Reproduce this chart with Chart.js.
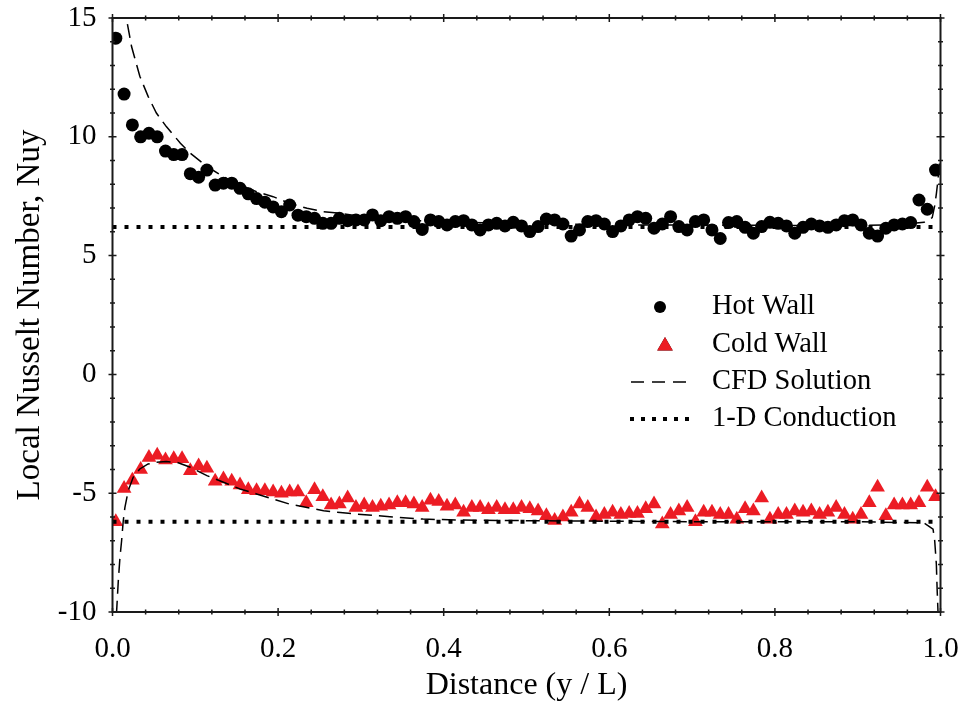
<!DOCTYPE html>
<html>
<head>
<meta charset="utf-8">
<script src="https://cdn.jsdelivr.net/npm/chart.js@4.4.1/dist/chart.umd.min.js"></script>
<style>
  html, body { margin: 0; padding: 0; background: #fff; }
  #wrap { width: 963px; height: 702px; }
</style>
</head>
<body>
<div id="wrap"><canvas id="myChart"></canvas></div>
<script>
// Distance (y / L) of each measured point
const distance = [
  0.004, 0.014, 0.024, 0.034, 0.044, 0.054, 0.064, 0.074, 0.084, 0.094,
  0.104, 0.114, 0.124, 0.134, 0.144, 0.154, 0.164, 0.174, 0.184, 0.194,
  0.204, 0.214, 0.224, 0.234, 0.244, 0.254, 0.264, 0.274, 0.284, 0.294,
  0.304, 0.314, 0.324, 0.334, 0.344, 0.354, 0.364, 0.374, 0.384, 0.394,
  0.404, 0.414, 0.424, 0.434, 0.444, 0.454, 0.464, 0.474, 0.484, 0.494,
  0.504, 0.514, 0.524, 0.534, 0.544, 0.554, 0.564, 0.574, 0.584, 0.594,
  0.604, 0.614, 0.624, 0.634, 0.644, 0.654, 0.664, 0.674, 0.684, 0.694,
  0.704, 0.714, 0.724, 0.734, 0.744, 0.754, 0.764, 0.774, 0.784, 0.794,
  0.804, 0.814, 0.824, 0.834, 0.844, 0.854, 0.864, 0.874, 0.884, 0.894,
  0.904, 0.914, 0.924, 0.934, 0.944, 0.954, 0.964, 0.974, 0.984, 0.994
];

const hotWall = [
  14.15, 11.8, 10.5, 10.0, 10.15, 10.0, 9.4, 9.25, 9.25, 8.45,
  8.3, 8.6, 7.97, 8.05, 8.05, 7.83, 7.6, 7.4, 7.25, 7.05,
  6.85, 7.13, 6.7, 6.64, 6.57, 6.36, 6.36, 6.57, 6.47, 6.5,
  6.5, 6.71, 6.47, 6.64, 6.57, 6.64, 6.43, 6.1, 6.5, 6.43,
  6.29, 6.43, 6.47, 6.29, 6.08, 6.29, 6.36, 6.25, 6.4, 6.25,
  6.01, 6.22, 6.54, 6.5, 6.33, 5.82, 6.08, 6.43, 6.47, 6.33,
  6.01, 6.25, 6.5, 6.64, 6.57, 6.15, 6.33, 6.64, 6.22, 6.08,
  6.43, 6.5, 6.08, 5.72, 6.39, 6.43, 6.19, 5.94, 6.22, 6.4,
  6.36, 6.25, 5.94, 6.19, 6.33, 6.25, 6.19, 6.29, 6.47, 6.5,
  6.29, 5.94, 5.82, 6.15, 6.29, 6.33, 6.39, 7.34, 6.95, 8.6
];

const coldWall = [
  -6.2, -4.8, -4.45, -4.0, -3.5, -3.4, -3.6, -3.55, -3.55, -4.05,
  -3.85, -3.95, -4.5, -4.4, -4.5, -4.65, -4.85, -4.9, -4.9, -4.95,
  -5.0, -4.95, -4.95, -5.4, -4.85, -5.15, -5.5, -5.45, -5.2, -5.6,
  -5.5, -5.6, -5.55, -5.5, -5.4, -5.4, -5.45, -5.6, -5.3, -5.35,
  -5.55, -5.5, -5.8, -5.6, -5.6, -5.7, -5.6, -5.7, -5.7, -5.6,
  -5.65, -5.75, -5.95, -6.15, -6.0, -5.8, -5.45, -5.6, -6.0, -5.9,
  -5.8, -5.9, -5.85, -5.85, -5.65, -5.45, -6.3, -5.9, -5.75, -5.6,
  -6.2, -5.8, -5.8, -5.9, -5.9, -6.1, -5.65, -5.75, -5.2, -6.1,
  -5.9, -5.9, -5.75, -5.8, -5.75, -5.9, -5.8, -5.6, -5.9, -6.1,
  -5.9, -5.4, -4.75, -5.95, -5.5, -5.5, -5.5, -5.4, -4.75, -5.15
];

// CFD solution curves
const cfdHotX = [0.012, 0.017, 0.020, 0.023, 0.033, 0.043, 0.053, 0.065, 0.082, 0.094,
  0.114, 0.134, 0.154, 0.174, 0.194, 0.214, 0.235, 0.255, 0.275, 0.30,
  0.35, 0.40, 0.50, 0.60, 0.70, 0.80, 0.90, 0.95, 0.98, 0.99,
  0.993, 0.995, 0.997, 0.999];
const cfdHotY = [16.5, 14.94, 14.37, 13.8, 12.55, 11.7, 11.0, 10.43, 9.73, 9.31,
  8.75, 8.32, 7.97, 7.69, 7.48, 7.2, 6.99, 6.85, 6.78, 6.65,
  6.5, 6.42, 6.35, 6.3, 6.28, 6.27, 6.27, 6.3, 6.4, 6.6,
  7.1, 7.6, 8.2, 9.0];

const cfdColdX = [0.004, 0.005, 0.007, 0.009, 0.011, 0.013, 0.015, 0.019, 0.025, 0.033,
  0.043, 0.053, 0.065, 0.078, 0.094, 0.114, 0.134, 0.154, 0.174, 0.194,
  0.214, 0.235, 0.255, 0.275, 0.295, 0.335, 0.375, 0.416, 0.516, 0.70,
  0.90, 0.98, 0.991, 0.993, 0.995, 0.996, 0.997, 0.998];
const cfdColdY = [-11, -9.96, -8.69, -7.71, -7.0, -6.16, -5.6, -4.89, -4.33, -3.98,
  -3.77, -3.70, -3.67, -3.70, -3.91, -4.26, -4.54, -4.82, -5.03, -5.25,
  -5.46, -5.6, -5.74, -5.81, -5.88, -5.99, -6.09, -6.13, -6.16, -6.2,
  -6.2, -6.25, -6.51, -7.0, -7.99, -9.11, -10.0, -11];

// 1-D conduction
const condX = [0, 1];
const condHot = [6.2, 6.2];
const condCold = [-6.2, -6.2];

// axis ticks
const xTicks = [0.0, 0.2, 0.4, 0.6, 0.8, 1.0];
const yTicks = [-10, -5, 0, 5, 10, 15];
const xMinorStep = 0.04;
const yMinorStep = 1;

const RED = '#ec1c24';
const FONT = "'Liberation Serif', 'Times New Roman', serif";

function pts(xs, ys) {
  return xs.map((x, i) => ({ x: x, y: ys[i] }));
}

// drop the label overhang so layout padding alone sets the plot box
function noOverhang(s) {
  s.paddingTop = 0; s.paddingBottom = 0;
  s.paddingLeft = 0; s.paddingRight = 0;
}

// box + in/out tick marks on all four sides
const framePlugin = {
  id: 'frame',
  afterDraw(chart) {
    const { ctx, chartArea: a, scales } = chart;
    const xs = scales.x, ys = scales.y;
    ctx.save();
    ctx.strokeStyle = '#1a1a1a';
    ctx.lineWidth = 2;
    ctx.strokeRect(a.left, a.top, a.right - a.left, a.bottom - a.top);
    ctx.lineWidth = 1.5;
    ctx.beginPath();
    for (let k = 0; k <= 25; k++) {
      const v = k * xMinorStep;
      const px = xs.getPixelForValue(v);
      const h = (k % 5 === 0) ? 4 : 2.5;
      ctx.moveTo(px, a.bottom - h); ctx.lineTo(px, a.bottom + h);
      ctx.moveTo(px, a.top - h); ctx.lineTo(px, a.top + h);
    }
    for (let k = 0; k <= 25; k++) {
      const v = -10 + k * yMinorStep;
      const py = ys.getPixelForValue(v);
      const h = (k % 5 === 0) ? 4 : 2.5;
      ctx.moveTo(a.left - h, py); ctx.lineTo(a.left + h, py);
      ctx.moveTo(a.right - h, py); ctx.lineTo(a.right + h, py);
    }
    ctx.stroke();
    ctx.restore();
  }
};

// legend inside the plot
const legendPlugin = {
  id: 'insideLegend',
  afterDraw(chart) {
    const ctx = chart.ctx;
    const symX = 660, textX = 712;
    const rows = [307, 345, 382, 419];
    ctx.save();
    ctx.font = '28.5px ' + FONT;
    ctx.fillStyle = '#000';
    ctx.textBaseline = 'middle';
    ctx.textAlign = 'left';
    const labels = ['Hot Wall', 'Cold Wall', 'CFD Solution', '1-D Conduction'];

    // hot wall dot
    ctx.beginPath();
    ctx.arc(symX, rows[0], 6, 0, Math.PI * 2);
    ctx.fillStyle = '#000';
    ctx.fill();
    // cold wall triangle
    Chart.helpers.drawPoint(ctx, { pointStyle: 'triangle', radius: 9, rotation: 0, borderWidth: 0 }, symX + 5, rows[1] + 1);
    ctx.fillStyle = RED;
    ctx.fill();
    // dashed line
    ctx.strokeStyle = '#000';
    ctx.lineWidth = 1.5;
    ctx.setLineDash([13, 8]);
    ctx.beginPath();
    ctx.moveTo(symX - 29, rows[2]); ctx.lineTo(symX + 29, rows[2]);
    ctx.stroke();
    // dotted line
    ctx.lineWidth = 4;
    ctx.setLineDash([4, 7]);
    ctx.beginPath();
    ctx.moveTo(symX - 30, rows[3]); ctx.lineTo(symX + 30, rows[3]);
    ctx.stroke();
    ctx.setLineDash([]);

    ctx.fillStyle = '#000';
    labels.forEach((t, i) => ctx.fillText(t, textX, rows[i]));
    ctx.restore();
  }
};

const ctx = document.getElementById('myChart').getContext('2d');
new Chart(ctx, {
  type: 'scatter',
  data: {
    datasets: [
      {
        label: 'Hot Wall',
        data: pts(distance, hotWall),
        pointStyle: 'circle',
        pointRadius: 6.5,
        backgroundColor: '#000',
        borderColor: '#000',
        borderWidth: 0,
        order: 2
      },
      {
        label: 'Cold Wall',
        data: pts(distance, coldWall),
        pointStyle: 'triangle',
        pointRadius: 8.5,
        backgroundColor: RED,
        borderColor: RED,
        borderWidth: 0,
        order: 2
      },
      {
        label: 'CFD Solution',
        data: pts(cfdHotX, cfdHotY),
        showLine: true,
        pointRadius: 0,
        borderColor: '#000',
        borderWidth: 1.5,
        borderDash: [14, 7],
        tension: 0,
        order: 1
      },
      {
        label: 'CFD Solution cold',
        data: pts(cfdColdX, cfdColdY),
        showLine: true,
        pointRadius: 0,
        borderColor: '#000',
        borderWidth: 1.5,
        borderDash: [14, 7],
        tension: 0,
        order: 1
      },
      {
        label: '1-D Conduction',
        data: pts(condX, condHot),
        showLine: true,
        pointRadius: 0,
        borderColor: '#000',
        borderWidth: 4,
        borderDash: [4, 8],
        borderCapStyle: 'butt',
        order: 0
      },
      {
        label: '1-D Conduction cold',
        data: pts(condX, condCold),
        showLine: true,
        pointRadius: 0,
        borderColor: '#000',
        borderWidth: 4,
        borderDash: [4, 8],
        borderCapStyle: 'butt',
        order: 0
      }
    ]
  },
  options: {
    responsive: true,
    maintainAspectRatio: false,
    animation: false,
    layout: { padding: { top: 18, right: 22.5, left: 0, bottom: 0 } },
    plugins: {
      legend: { display: false },
      tooltip: { enabled: false }
    },
    scales: {
      x: {
        type: 'linear',
        min: 0,
        max: 1,
        afterBuildTicks: s => { s.ticks = xTicks.map(v => ({ value: v })); },
        afterFit: s => { s.height = 90; noOverhang(s); },
        grid: { display: false, drawTicks: false },
        border: { display: false },
        ticks: {
          padding: 20,
          maxRotation: 0,
          color: '#000',
          font: { family: FONT, size: 29 },
          callback: v => Number(v).toFixed(1)
        },
        title: {
          display: true,
          text: 'Distance (y / L)',
          color: '#000',
          font: { family: FONT, size: 32, lineHeight: 1 },
          padding: { top: 0, bottom: 0 }
        }
      },
      y: {
        type: 'linear',
        min: -10,
        max: 15,
        afterBuildTicks: s => { s.ticks = yTicks.map(v => ({ value: v })); },
        afterFit: s => { s.width = 112.5; noOverhang(s); },
        grid: { display: false, drawTicks: false },
        border: { display: false },
        ticks: {
          padding: 16,
          color: '#000',
          font: { family: FONT, size: 29 },
          callback: v => String(v)
        },
        title: {
          display: true,
          text: 'Local Nusselt Number, Nuy',
          color: '#000',
          font: { family: FONT, size: 33, lineHeight: 1 },
          padding: { top: 14, bottom: 0 }
        }
      }
    }
  },
  plugins: [framePlugin, legendPlugin]
});
</script>
</body>
</html>
